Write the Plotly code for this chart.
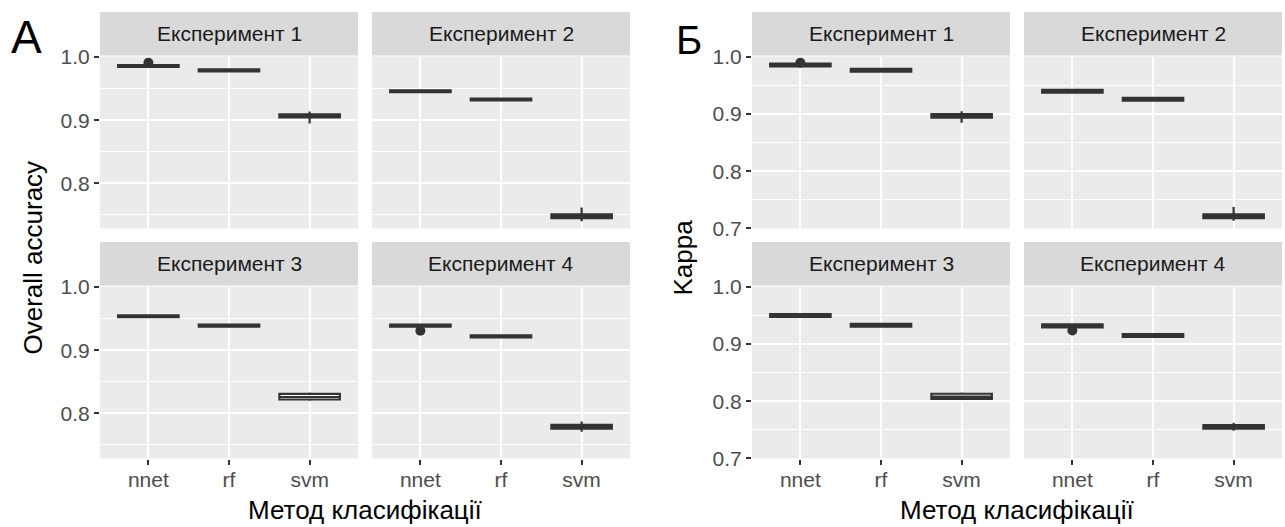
import plotly.graph_objects as go

W, H = 1285, 527

categories = ["nnet", "rf", "svm"]
experiments = ["Експеримент 1", "Експеримент 2", "Експеримент 3", "Експеримент 4"]

# Panel А: Overall accuracy (rows = experiments, cols = nnet, rf, svm)
oa_q1 = [[0.9845, 0.9775, 0.9045], [0.9445, 0.9315, 0.745], [0.9525, 0.9375, 0.822], [0.9375, 0.9205, 0.776]]
oa_median = [[0.986, 0.979, 0.907], [0.946, 0.933, 0.748], [0.954, 0.939, 0.826], [0.939, 0.922, 0.779]]
oa_q3 = [[0.9875, 0.9805, 0.9095], [0.9475, 0.9345, 0.751], [0.9555, 0.9405, 0.831], [0.9405, 0.9235, 0.782]]
oa_low = [[0.9845, 0.9775, 0.895], [0.943, 0.9315, 0.740], [0.9525, 0.9375, 0.820], [0.9375, 0.9205, 0.771]]
oa_high = [[0.9875, 0.9805, 0.914], [0.9475, 0.9345, 0.762], [0.9555, 0.9405, 0.833], [0.9405, 0.9235, 0.787]]
oa_outlier_exp = [0, 3]
oa_outlier_cat = ["nnet", "nnet"]
oa_outlier_val = [0.991, 0.931]

# Panel Б: Kappa
ka_q1 = [[0.9835, 0.9745, 0.894], [0.9375, 0.9235, 0.7175], [0.9475, 0.9305, 0.804], [0.9295, 0.9125, 0.752]]
ka_median = [[0.986, 0.977, 0.897], [0.940, 0.926, 0.721], [0.950, 0.933, 0.808], [0.932, 0.915, 0.755]]
ka_q3 = [[0.9885, 0.9795, 0.900], [0.9425, 0.9285, 0.7245], [0.9525, 0.9355, 0.813], [0.9345, 0.9175, 0.758]]
ka_low = [[0.9835, 0.9745, 0.885], [0.936, 0.9235, 0.713], [0.9475, 0.9305, 0.803], [0.9295, 0.9125, 0.748]]
ka_high = [[0.9885, 0.9795, 0.905], [0.9425, 0.9285, 0.737], [0.9525, 0.9355, 0.815], [0.9345, 0.9175, 0.762]]
ka_outlier_exp = [0, 3]
ka_outlier_cat = ["nnet", "nnet"]
ka_outlier_val = [0.990, 0.924]

FONT = "Liberation Sans, Arial, Helvetica, sans-serif"
DARK = "#333333"
TICK_SIZE = 21
TITLE_SIZE = 26

panels = [
    dict(label="А", label_x=26, label_y=37, label_size=46, ytitle="Overall accuracy", ytitle_x=33,
         cols=[(100, 358), (372, 630)], yrange=[0.7286, 1.001], ytickvals=[0.8, 0.9, 1.0],
         yminor=[0.75, 0.85, 0.95],
         q1=oa_q1, med=oa_median, q3=oa_q3, lo=oa_low, hi=oa_high,
         oexp=oa_outlier_exp, ocat=oa_outlier_cat, oval=oa_outlier_val),
    dict(label="Б", label_x=689, label_y=40, label_size=40, ytitle="Kappa", ytitle_x=683,
         cols=[(752, 1010), (1024, 1282)], yrange=[0.6995, 1.001], ytickvals=[0.7, 0.8, 0.9, 1.0],
         yminor=[0.75, 0.85, 0.95],
         q1=ka_q1, med=ka_median, q3=ka_q3, lo=ka_low, hi=ka_high,
         oexp=ka_outlier_exp, ocat=ka_outlier_cat, oval=ka_outlier_val),
]

rows = [dict(strip=(12, 55.5), plot=(56.5, 228.5)), dict(strip=(242, 285.5), plot=(286.5, 458.5))]

fig = go.Figure()
layout = dict(width=W, height=H, margin=dict(l=0, r=0, t=0, b=0, pad=0, autoexpand=False), autosize=False,
              paper_bgcolor="white", plot_bgcolor="#EBEBEB", showlegend=False,
              font=dict(family=FONT), shapes=[], annotations=[])

def px_x(x):
    return x / W

def px_y(y):
    return 1 - y / H

idx = 0
for p in panels:
    for e in range(4):
        idx += 1
        r, c = divmod(e, 2)
        xname = "x" if idx == 1 else f"x{idx}"
        yname = "y" if idx == 1 else f"y{idx}"
        xkey = "xaxis" if idx == 1 else f"xaxis{idx}"
        ykey = "yaxis" if idx == 1 else f"yaxis{idx}"
        x0, x1 = p["cols"][c]
        sy0, sy1 = rows[r]["strip"]
        py0, py1 = rows[r]["plot"]

        fig.add_trace(go.Box(
            x=categories, q1=p["q1"][e], median=p["med"][e], q3=p["q3"][e],
            lowerfence=p["lo"][e], upperfence=p["hi"][e],
            width=0.75, whiskerwidth=0, boxpoints=False,
            fillcolor="white", line=dict(color=DARK, width=2.2),
            xaxis=xname, yaxis=yname, hoverinfo="skip"))
        ox = [p["ocat"][k] for k in range(len(p["oexp"])) if p["oexp"][k] == e]
        oy = [p["oval"][k] for k in range(len(p["oexp"])) if p["oexp"][k] == e]
        if ox:
            fig.add_trace(go.Scatter(x=ox, y=oy, mode="markers",
                                     marker=dict(color=DARK, size=10),
                                     xaxis=xname, yaxis=yname, hoverinfo="skip"))

        bottom = (r == 1)
        left = (c == 0)
        layout[xkey] = dict(domain=[px_x(x0), px_x(x1)], anchor=yname, type="category",
                            categoryorder="array", categoryarray=categories,
                            range=[-0.6, 2.6], showgrid=True, gridcolor="white", gridwidth=1.6,
                            zeroline=False, showline=False, automargin=False,
                            ticks="outside" if bottom else "", ticklen=5, tickwidth=1.6, tickcolor=DARK,
                            ticklabelstandoff=-3,
                            showticklabels=bottom, tickfont=dict(size=TICK_SIZE, color="#4D4D4D", family=FONT),
                            fixedrange=True)
        layout[ykey] = dict(domain=[px_y(py1), px_y(py0)], anchor=xname, range=p["yrange"],
                            tickmode="array", tickvals=p["ytickvals"],
                            ticktext=[f"{v:.1f}" for v in p["ytickvals"]],
                            showgrid=True, gridcolor="white", gridwidth=1.6,
                            minor=dict(tickvals=p["yminor"], showgrid=True, gridcolor="white",
                                       gridwidth=0.8, ticks=""),
                            zeroline=False, showline=False, automargin=False,
                            ticks="outside" if left else "", ticklen=5, tickwidth=1.6, tickcolor=DARK,
                            showticklabels=left, tickfont=dict(size=TICK_SIZE, color="#4D4D4D", family=FONT),
                            fixedrange=True)
        layout["shapes"].append(dict(type="rect", xref="paper", yref="paper",
                                     x0=px_x(x0), x1=px_x(x1), y0=px_y(sy1), y1=px_y(sy0),
                                     fillcolor="#D9D9D9", line=dict(width=0), layer="below"))
        layout["annotations"].append(dict(text=experiments[e], xref="paper", yref="paper",
                                          x=px_x((x0 + x1) / 2), y=px_y((sy0 + sy1) / 2),
                                          xanchor="center", yanchor="middle", showarrow=False,
                                          font=dict(size=TICK_SIZE, color="#1A1A1A", family=FONT)))

    layout["annotations"].append(dict(text=p["label"], xref="paper", yref="paper",
                                      x=px_x(p["label_x"]), y=px_y(p["label_y"]),
                                      xanchor="center", yanchor="middle", showarrow=False,
                                      font=dict(size=p["label_size"], color="black", family=FONT)))
    layout["annotations"].append(dict(text=p["ytitle"], xref="paper", yref="paper",
                                      x=px_x(p["ytitle_x"]), y=px_y((56.5 + 458.5) / 2),
                                      xanchor="center", yanchor="middle", showarrow=False, textangle=-90,
                                      font=dict(size=TITLE_SIZE, color="black", family=FONT)))
    cx = (p["cols"][0][0] + p["cols"][1][1]) / 2
    layout["annotations"].append(dict(text="Метод класифікації", xref="paper", yref="paper",
                                      x=px_x(cx), y=px_y(510), xanchor="center", yanchor="middle",
                                      showarrow=False, font=dict(size=TITLE_SIZE, color="black", family=FONT)))

fig.update_layout(**layout)
fig.write_html("out.html",
               post_script="document.body.style.margin='0';document.body.style.overflow='hidden';")
